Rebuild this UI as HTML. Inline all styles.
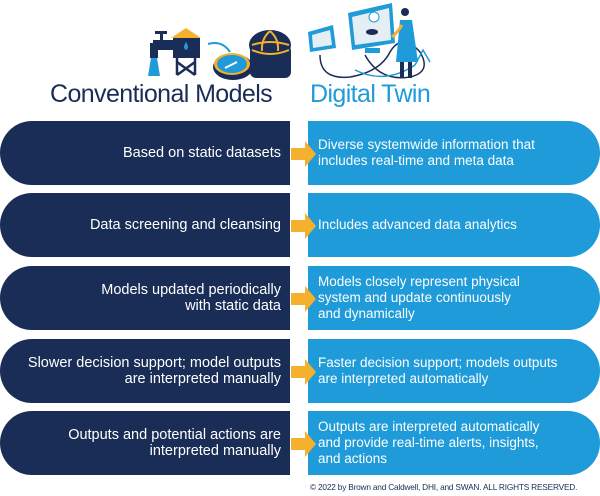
<!DOCTYPE html>
<html><head><meta charset="utf-8"><style>
body{margin:0;width:600px;height:496px;background:#fff;position:relative;overflow:hidden;font-family:"Liberation Sans",sans-serif}
.h{position:absolute;top:80px;font-size:25px;letter-spacing:-0.6px;white-space:nowrap}
.l{position:absolute;left:0;width:290px;height:64px;background:#1a2d56;border-radius:32px 0 0 32px;color:#fff;font-size:14.5px;line-height:16px;display:flex;align-items:center;justify-content:flex-end;text-align:right;padding-right:9px;box-sizing:border-box}
.r{position:absolute;left:308px;width:292px;height:64px;background:#1e9bd8;border-radius:0 32px 32px 0;color:#fff;font-size:13.5px;line-height:16px;display:flex;align-items:center;padding-left:10px;box-sizing:border-box}
.a{position:absolute;left:291px}
.c{position:absolute;left:310px;top:482px;font-size:8.3px;color:#1a2d56;letter-spacing:-0.2px}
</style></head><body>
<svg width="600" height="110" style="position:absolute;left:0;top:0">
<rect x="153" y="40" width="20" height="10" fill="#1a2d56"/><rect x="150" y="43" width="8" height="15" fill="#1a2d56"/>
<rect x="160" y="32" width="3" height="9" fill="#1a2d56"/><rect x="155" y="31" width="12" height="3" fill="#1a2d56"/>
<polygon points="151,58 157,58 160,76 148,76" fill="#1e9bd8"/>
<polygon points="171,38 186,28 201,38" fill="#f5b02e"/>
<rect x="173" y="38" width="27" height="20" fill="#1a2d56"/>
<path d="M186,42 q-4,6 0,8 q4,-2 0,-8z" fill="#1e9bd8"/>
<path d="M177,58 L177,75 M195,58 L195,75 M177,62 L195,75 M195,62 L177,75" stroke="#1a2d56" stroke-width="2.5"/>
<path d="M230,52 q-8,-12 -22,-8" stroke="#1e9bd8" stroke-width="2" fill="none"/>
<ellipse cx="233" cy="67" rx="20" ry="13" fill="#1a2d56"/><ellipse cx="232" cy="64" rx="18" ry="11" fill="#f5b02e"/><ellipse cx="232" cy="64" rx="15" ry="9" fill="#1e9bd8"/>
<path d="M225,68 L237,62" stroke="#fff" stroke-width="2"/>
<rect x="250" y="45" width="41" height="33" rx="6" fill="#1a2d56"/>
<ellipse cx="270" cy="45" rx="21" ry="15" fill="#1a2d56"/>
<path d="M252,50 q18,8 37,0 M270,31 q-9,8 -8,20 M270,31 q9,8 8,20 M252,45 q18,-6 37,0" stroke="#f5b02e" stroke-width="2" fill="none"/>
<path d="M320,55 q0,25 30,22 q30,-5 40,-25 q12,-20 30,0 q12,20 -10,25 q-30,5 -45,-22" stroke="#1a2d56" stroke-width="1.5" fill="none"/>
<path d="M355,70 q30,15 60,-5 l8,-15 l7,12" stroke="#1e9bd8" stroke-width="1.5" fill="none"/>
<polygon points="308,32 333,25 336,48 310,52" fill="#1e9bd8"/><polygon points="312,35 330,30 332,45 313,48" fill="#e6eef5"/>
<polygon points="348,13 392,3 395,43 352,50" fill="#1e9bd8"/><polygon points="352,17 389,8 391,40 355,45" fill="#e6eef5"/>
<ellipse cx="372" cy="32" rx="6" ry="3" fill="#1a2d56"/><circle cx="374" cy="17" r="5" fill="#fff" stroke="#1e9bd8"/>
<rect x="365" y="48" width="15" height="5" fill="#1e9bd8"/>
<circle cx="405" cy="12" r="4" fill="#1a2d56"/>
<polygon points="400,20 412,20 418,62 396,62" fill="#1e9bd8"/>
<rect x="400" y="62" width="4" height="16" fill="#1a2d56"/><rect x="408" y="62" width="4" height="16" fill="#1a2d56"/>
<path d="M402,25 q-5,8 -10,12" stroke="#f5b02e" stroke-width="3" fill="none"/>
</svg>
<div class="h" style="left:50px;color:#1a2d56">Conventional Models</div>
<div class="h" style="left:310px;color:#1e9bd8">Digital Twin</div>

<div class="l" style="top:121px">Based on static datasets</div>
<div class="r" style="top:121px">Diverse systemwide information that<br>includes real-time and meta data</div>
<div class="l" style="top:193px">Data screening and cleansing</div>
<div class="r" style="top:193px">Includes advanced data analytics</div>
<div class="l" style="top:266px">Models updated periodically<br>with static data</div>
<div class="r" style="top:266px">Models closely represent physical<br>system and update continuously<br>and dynamically</div>
<div class="l" style="top:339px">Slower decision support; model outputs<br>are interpreted manually</div>
<div class="r" style="top:339px">Faster decision support; models outputs<br>are interpreted automatically</div>
<div class="l" style="top:411px">Outputs and potential actions are<br>interpreted manually</div>
<div class="r" style="top:411px">Outputs are interpreted automatically<br>and provide real-time alerts, insights,<br>and actions</div>

<svg class="a" style="top:141px" width="26" height="26"><polygon points="0,7 14,7 14,0 25,13 14,26 14,19 0,19" fill="#f5b02e"/></svg>
<svg class="a" style="top:213px" width="26" height="26"><polygon points="0,7 14,7 14,0 25,13 14,26 14,19 0,19" fill="#f5b02e"/></svg>
<svg class="a" style="top:286px" width="26" height="26"><polygon points="0,7 14,7 14,0 25,13 14,26 14,19 0,19" fill="#f5b02e"/></svg>
<svg class="a" style="top:359px" width="26" height="26"><polygon points="0,7 14,7 14,0 25,13 14,26 14,19 0,19" fill="#f5b02e"/></svg>
<svg class="a" style="top:431px" width="26" height="26"><polygon points="0,7 14,7 14,0 25,13 14,26 14,19 0,19" fill="#f5b02e"/></svg>
<div class="c">© 2022 by Brown and Caldwell, DHI, and SWAN. ALL RIGHTS RESERVED.</div>
</body></html>
